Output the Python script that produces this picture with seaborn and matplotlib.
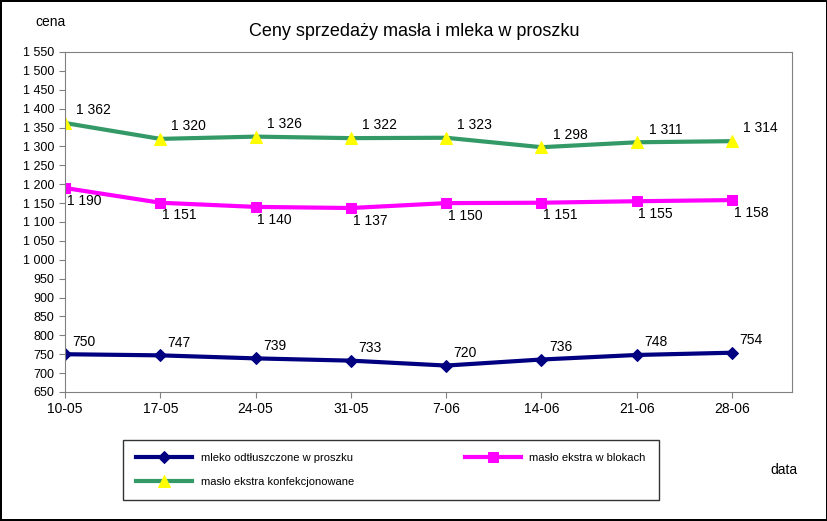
import matplotlib
matplotlib.use("Agg")
import matplotlib.pyplot as plt
import seaborn as sns
import pandas as pd
import numpy as np

plt.rcParams["font.family"] = "Liberation Sans"
dates = ["10-05","17-05","24-05","31-05","7-06","14-06","21-06","28-06"]
mleko = [750,747,739,733,720,736,748,754]
maslo_bl = [1190,1151,1140,1137,1150,1151,1155,1158]
maslo_konf = [1362,1320,1326,1322,1323,1298,1311,1314]
yticks = list(range(650,1551,50))

def fmt(v):
    return f"{v:,}".replace(",", " ")

fig = plt.figure(figsize=(8.28,5.21), dpi=100)
fig.patch.set_edgecolor("black"); fig.patch.set_linewidth(1.5)
ax = fig.add_axes([65/828, 1-392/521, (792-65)/828, (392-52)/521])
x = np.arange(len(dates))
df = pd.DataFrame({"x":x,"m":mleko,"b":maslo_bl,"k":maslo_konf})
sns.lineplot(data=df,x="x",y="m",ax=ax,color="#000080",lw=3,marker="D",markersize=6,markeredgecolor="#000080",label="mleko odtłuszczone w proszku")
sns.lineplot(data=df,x="x",y="b",ax=ax,color="#FF00FF",lw=3,marker="s",markersize=7,markeredgecolor="#FF00FF",label="masło ekstra w blokach")
sns.lineplot(data=df,x="x",y="k",ax=ax,color="#339966",lw=3,marker="^",markersize=8,markerfacecolor="#FFFF00",markeredgecolor="#FFFF00",label="masło ekstra konfekcjonowane")
for i in x:
    ax.text(i+0.2, mleko[i]+15, fmt(mleko[i]), fontsize=10, ha="center", va="bottom")
    ax.text(i+0.2, maslo_bl[i]-15, fmt(maslo_bl[i]), fontsize=10, ha="center", va="top")
    ax.text(i+0.3, maslo_konf[i]+15, fmt(maslo_konf[i]), fontsize=10, ha="center", va="bottom")
ax.set_xlim(0, 7.63); ax.set_ylim(650,1550)
ax.set_yticks(yticks); ax.set_yticklabels([fmt(v) for v in yticks], fontsize=9)
ax.set_xticks(x); ax.set_xticklabels(dates, fontsize=10)
ax.set_xlabel(""); ax.set_ylabel("")
for s in ax.spines.values(): s.set_color("#808080")
ax.tick_params(length=4, color="#808080")
fig.text(35/828, 1-22/521, "cena", fontsize=10, va="center")
fig.text(0.5, 1-32/521, "Ceny sprzedaży masła i mleka w proszku", fontsize=13, ha="center", va="center")
fig.text(770/828, 1-470/521, "data", fontsize=10, va="center")
h, l = ax.get_legend_handles_labels()
ax.legend_.remove()
order=[0,2,1]
fig.legend([h[i] for i in order], [l[i] for i in order], loc="center", bbox_to_anchor=(391/828, 1-470/521), ncol=2, fontsize=8, frameon=True, fancybox=False, edgecolor="black", columnspacing=10, handlelength=5, borderpad=1.2, labelspacing=1.2)
fig.savefig("out.png", dpi=100)
